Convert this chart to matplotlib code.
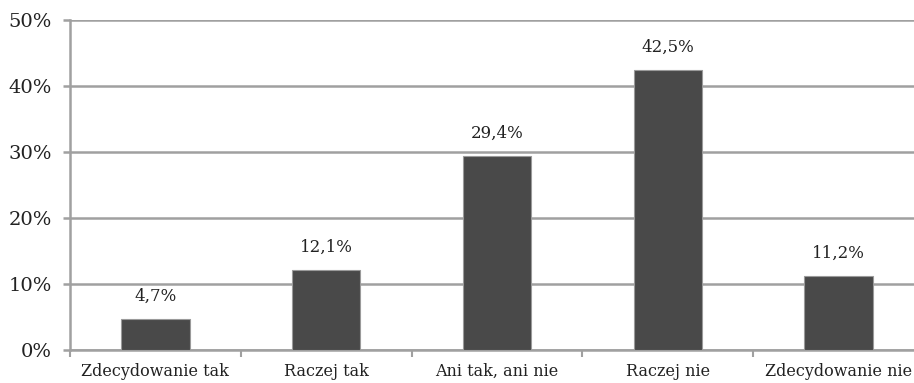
import matplotlib
matplotlib.use("Agg")
import matplotlib.pyplot as plt
from matplotlib.ticker import FuncFormatter

categories = ["Zdecydowanie tak", "Raczej tak", "Ani tak, ani nie", "Raczej nie", "Zdecydowanie nie"]
values = [4.7, 12.1, 29.4, 42.5, 11.2]
yticks = [0, 10, 20, 30, 40, 50]

plt.rcParams['font.family'] = ['DejaVu Serif']

fig = plt.figure(figsize=(9.14, 3.83), dpi=100)
W, H = 914, 383
ax = fig.add_axes([70 / W, (H - 350) / H, 854 / W, 330 / H])

grid_col = "#a0a0a0"
x = range(len(categories))
ax.bar(x, values, width=0.4, color="#494949", edgecolor="#9a9a9a", linewidth=0.8, zorder=3)

for xi, v in zip(x, values):
    ax.annotate(("%.1f" % v).replace(".", ",") + "%", (xi, v), xytext=(0, 10),
                textcoords="offset points", ha="center", va="bottom", fontsize=12, color="#222222")

ax.set_ylim(0, 50)
ax.set_xlim(-0.5, len(categories) - 0.5)
ax.set_yticks(yticks)
ax.yaxis.set_major_formatter(FuncFormatter(lambda v, p: "%d%%" % v))
ax.yaxis.grid(True, color=grid_col, linewidth=1.8, zorder=0)
ax.set_xticks(x)
ax.set_xticklabels(categories)
ax.set_xticks([i + 0.5 for i in range(-1, len(categories))], minor=True)
ax.tick_params(axis="x", which="major", length=0, pad=9.5, labelsize=11.5, labelcolor="#222222")
ax.tick_params(axis="x", which="minor", length=5, width=1.5, color=grid_col)
ax.tick_params(axis="y", length=5, width=1.8, color=grid_col, pad=8, labelsize=14, labelcolor="#222222")

for s in ["top", "right"]:
    ax.spines[s].set_visible(False)
ax.spines["left"].set_color(grid_col)
ax.spines["left"].set_linewidth(1.8)
ax.spines["bottom"].set_color(grid_col)
ax.spines["bottom"].set_linewidth(1.8)

fig.savefig("out.png", dpi=100)
